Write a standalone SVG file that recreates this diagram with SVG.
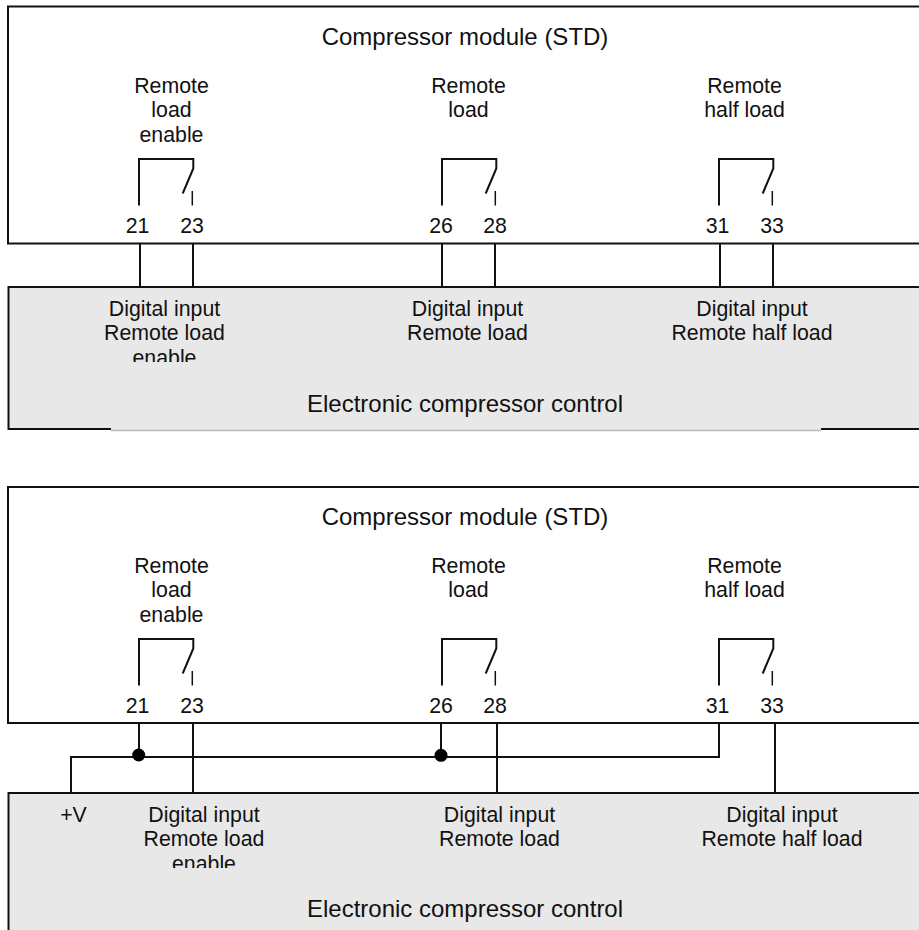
<svg xmlns="http://www.w3.org/2000/svg" width="919" height="930" viewBox="0 0 919 930">
<style>
text{font-family:"Liberation Sans",Arial,sans-serif;font-size:21.300px;fill:#111;text-anchor:middle}
.b{font-size:24px}
.l{fill:none;stroke:#111;stroke-width:2}
.s{fill:none;stroke:#111;stroke-width:1.500}
.mod{fill:#fff;stroke:#111;stroke-width:2}
.ctl{fill:#e8e8e8;stroke:#111;stroke-width:2}
</style>
<defs>
<clipPath id="c1"><rect x="90" y="290" width="150" height="72"/></clipPath>
<clipPath id="c2"><rect x="130" y="795" width="150" height="73"/></clipPath>
<g id="sw"><path class="l" d="M139 205.500V159H193.300V168.500L182.700 193.500"/><path class="s" d="M192.300 191V205.500"/></g>
</defs>
<rect width="919" height="930" fill="#fff"/>
<g id="module-top">
<rect class="mod" x="8" y="6.500" width="930" height="237"/>
<text class="b" x="465" y="45">Compressor module (STD)</text>
<text x="171.500" y="93">Remote</text><text x="171.500" y="117">load</text><text x="171.500" y="142">enable</text>
<text x="468.500" y="93">Remote</text><text x="468.500" y="117">load</text>
<text x="744.500" y="93">Remote</text><text x="744.500" y="117">half load</text>
<use href="#sw"/><use href="#sw" x="303"/><use href="#sw" x="580"/>
<text x="137.500" y="233">21</text><text x="192" y="233">23</text>
<text x="441" y="233">26</text><text x="495" y="233">28</text>
<text x="717.500" y="233">31</text><text x="772" y="233">33</text>
</g>
<g id="control-top">
<rect x="8" y="287" width="930" height="143" fill="#e8e8e8"/>
<path d="M111 430.500H821" stroke="#bbb" stroke-width="1.500" fill="none"/>
<path class="l" d="M938 287H8.500V429H111M821 429H919"/>
<text x="164.500" y="316">Digital input</text><text x="164.500" y="340">Remote load</text>
<text x="164.500" y="364.500" clip-path="url(#c1)">enable</text>
<text x="467.500" y="316">Digital input</text><text x="467.500" y="340">Remote load</text>
<text x="752" y="316">Digital input</text><text x="752" y="340">Remote half load</text>
<text class="b" x="465" y="412">Electronic compressor control</text>
</g>
<g id="module-bottom">
<rect class="mod" x="8" y="487" width="930" height="236"/>
<text class="b" x="465" y="525">Compressor module (STD)</text>
<text x="171.500" y="573">Remote</text><text x="171.500" y="597">load</text><text x="171.500" y="622">enable</text>
<text x="468.500" y="573">Remote</text><text x="468.500" y="597">load</text>
<text x="744.500" y="573">Remote</text><text x="744.500" y="597">half load</text>
<use href="#sw" y="480"/><use href="#sw" x="303" y="480"/><use href="#sw" x="580" y="480"/>
<text x="137.500" y="713">21</text><text x="192" y="713">23</text>
<text x="441" y="713">26</text><text x="495" y="713">28</text>
<text x="717.500" y="713">31</text><text x="772" y="713">33</text>
</g>
<g id="control-bottom">
<rect class="ctl" x="8.500" y="793" width="930" height="150"/>
<text x="73.500" y="822">+V</text>
<text x="204" y="822">Digital input</text><text x="204" y="846">Remote load</text>
<text x="204" y="870.500" clip-path="url(#c2)">enable</text>
<text x="499.500" y="822">Digital input</text><text x="499.500" y="846">Remote load</text>
<text x="782" y="822">Digital input</text><text x="782" y="846">Remote half load</text>
<text class="b" x="465" y="917">Electronic compressor control</text>
</g>
<g id="connectors">
<path class="l" d="M140 243V287M193 243V287M442 243V287M495 243V287M720 243V287M773 243V287"/>
<path class="l" d="M139 723V757M193 723V793M71 793V757H719V723M441 723V757M497 723V793M775 723V793"/>
<circle cx="138.700" cy="755" r="6.500" fill="#000"/>
<circle cx="441" cy="755.300" r="6.500" fill="#000"/>
</g>
</svg>
